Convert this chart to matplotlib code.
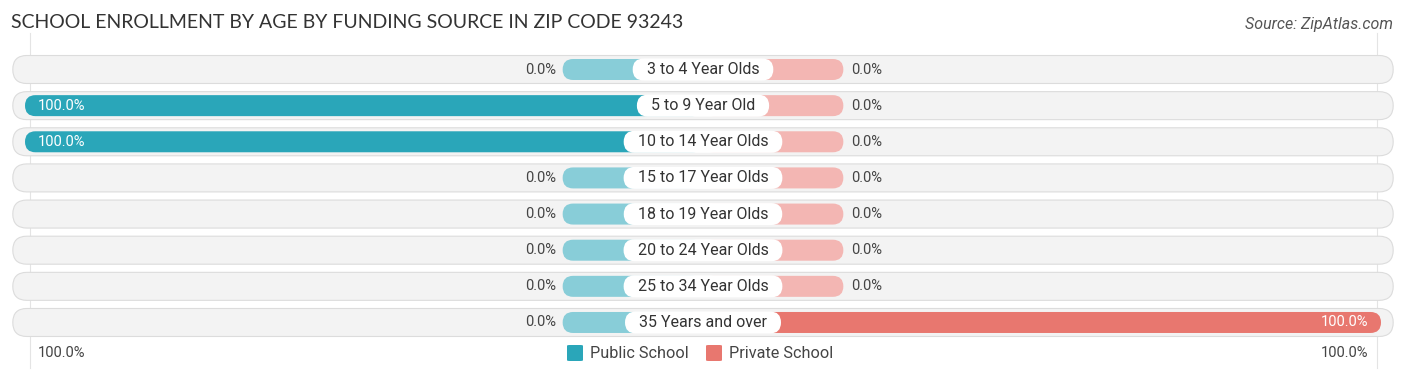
import matplotlib
matplotlib.use('Agg')
import matplotlib.pyplot as plt
from matplotlib.patches import FancyBboxPatch

plt.rcParams['font.family'] = ['Roboto', 'DejaVu Sans']

# data
age_groups = ['3 to 4 Year Olds', '5 to 9 Year Old', '10 to 14 Year Olds',
              '15 to 17 Year Olds', '18 to 19 Year Olds', '20 to 24 Year Olds',
              '25 to 34 Year Olds', '35 Years and over']
public_pct = [0.0, 100.0, 100.0, 0.0, 0.0, 0.0, 0.0, 0.0]
private_pct = [0.0, 0.0, 0.0, 0.0, 0.0, 0.0, 0.0, 100.0]

title = 'SCHOOL ENROLLMENT BY AGE BY FUNDING SOURCE IN ZIP CODE 93243'
source = 'Source: ZipAtlas.com'

pub_dark, pub_light = '#2aa6b9', '#88cdd8'
prv_dark, prv_light = '#e8776f', '#f3b6b3'

W, H, dpi = 1406, 377, 100
fig = plt.figure(figsize=(W / dpi, H / dpi), dpi=dpi)
ax = fig.add_axes([0, 0, 1, 1])
ax.axis('off')

# pixel layout: -100% at x=25px, +100% at x=1381px, rows every 36.14px from y=69.5
xpp = 200.0 / 1356          # x units per pixel
ypp = 1.0 / 36.14           # y units per pixel
y0 = 69.5
ax.set_xlim(-100 - 25 * xpp, 100 + 25 * xpp)
ax.set_ylim((H - y0) * ypp, -y0 * ypp)
aspect = ypp / xpp


def pill(x0, x1, y, h_px, color, ec='none', lw=0, z=1):
    h = h_px * ypp
    p = FancyBboxPatch((x0, y - h / 2), x1 - x0, h,
                       boxstyle='round,pad=0,rounding_size=%f' % (h_px * xpp / 2),
                       mutation_aspect=aspect, fc=color, ec=ec, lw=lw, zorder=z)
    ax.add_patch(p)


min_w = 20.7
# faint guide lines
for gx in [-100 + 5 * xpp, 100 - 4 * xpp]:
    ax.plot([gx, gx], [-1.0, 8.25], color='#e4e4e4', lw=0.8, zorder=0)

labels = []
for i, lab in enumerate(age_groups):
    pill(-101.8, 101.8, i, 28, '#f3f3f3', ec='#dcdcdc', lw=0.8, z=1)
    pv, rv = public_pct[i], private_pct[i]
    # public (left)
    if pv > 0:
        pill(-pv, 0, i, 21, pub_dark, z=2)
        ax.text(-pv + 13 * xpp, i, '%.1f%%' % pv, color='white', fontsize=10.5,
                ha='left', va='center', zorder=5)
    else:
        pill(-min_w, 0, i, 21, pub_light, z=2)
        ax.text(-min_w - 7 * xpp, i, '%.1f%%' % pv, color='#444444', fontsize=10.5,
                ha='right', va='center', zorder=5)
    # private (right)
    if rv > 0:
        pill(0, rv, i, 21, prv_dark, z=2)
        ax.text(rv - 13 * xpp, i, '%.1f%%' % rv, color='white', fontsize=10.5,
                ha='right', va='center', zorder=5)
    else:
        pill(0, min_w, i, 21, prv_light, z=2)
        ax.text(min_w + 8 * xpp, i, '%.1f%%' % rv, color='#444444', fontsize=10.5,
                ha='left', va='center', zorder=5)
    labels.append(ax.text(0, i, lab, fontsize=11.5, color='#333333', ha='center',
                          va='center', zorder=6))

# white pills behind the category labels, sized from the text extent
fig.canvas.draw()
r = fig.canvas.get_renderer()
for i, t in enumerate(labels):
    bb = t.get_window_extent(renderer=r)
    half = (bb.width / 2 + 14) * xpp
    pill(-half, half, i, 22, 'white', z=4)

# bottom axis labels
yb = (353 - y0) * ypp
ax.text(-100 + 13 * xpp, yb, '100.0%', fontsize=10.5, color='#444444', ha='left', va='center')
ax.text(100 - 13 * xpp, yb, '100.0%', fontsize=10.5, color='#444444', ha='right', va='center')

fig.text(11 / W, 1 - 22 / H, title, fontsize=14, color='#333333', ha='left', va='center',
         family=['Lato', 'DejaVu Sans'])
fig.text(1393 / W, 1 - 24 / H, source, fontsize=11.5, color='#555555', ha='right', va='center',
         style='italic')

# legend
ly = 1 - 353 / H
for x0, col, txt in [(567, pub_dark, 'Public School'), (706, prv_dark, 'Private School')]:
    fig.patches.append(FancyBboxPatch((x0 / W, ly - 8 / H), 16 / W, 16 / H,
                                      boxstyle='round,pad=0,rounding_size=0.002',
                                      fc=col, ec='none', transform=fig.transFigure, figure=fig))
    fig.text((x0 + 23) / W, ly, txt, fontsize=11.7, color='#444444', ha='left', va='center')

fig.savefig('out.png', dpi=dpi)
